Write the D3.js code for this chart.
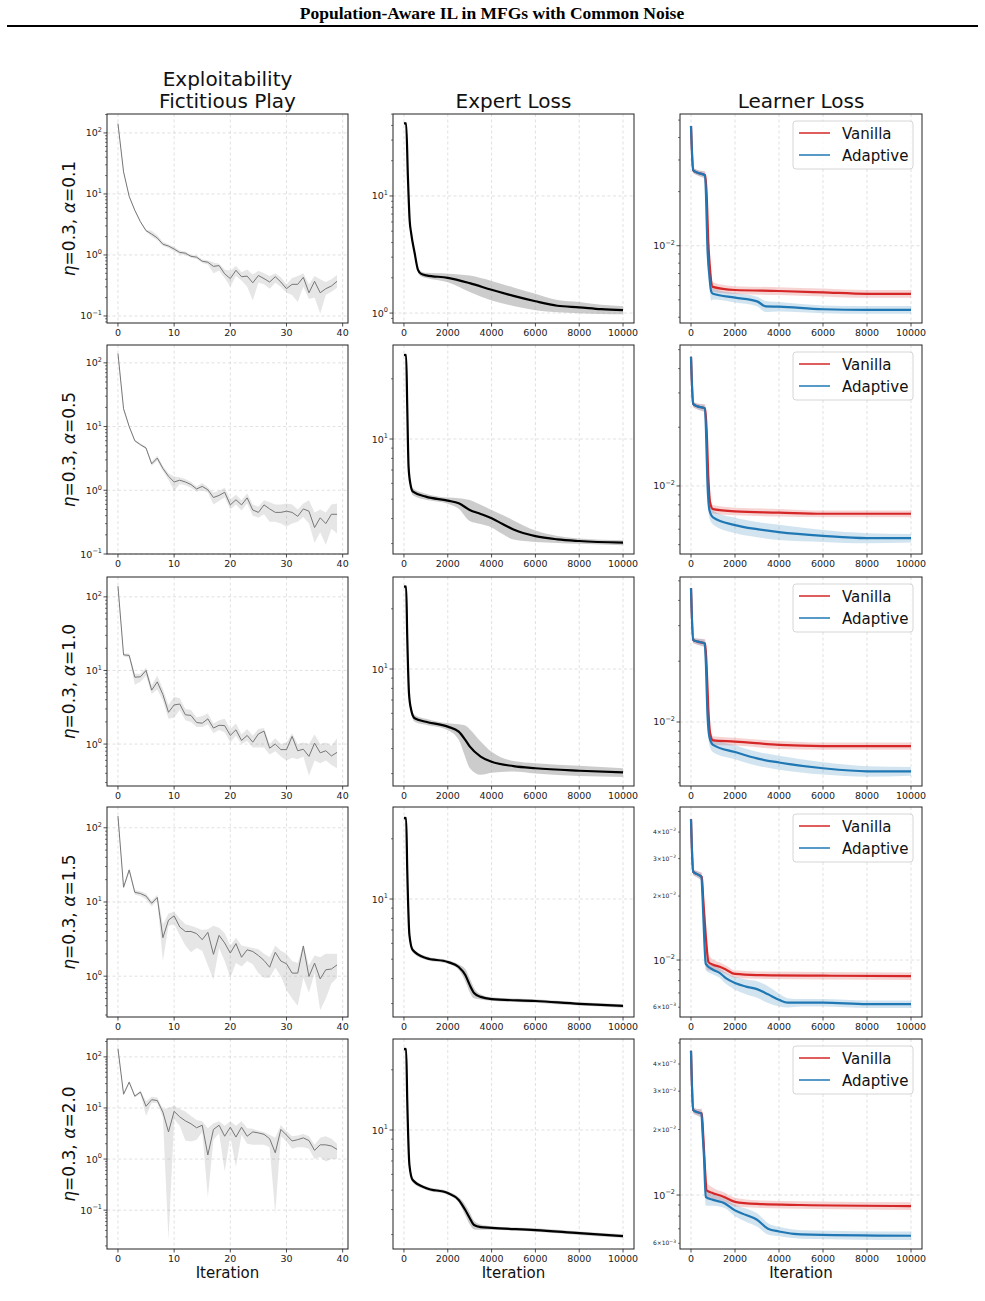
<!DOCTYPE html>
<html>
<head>
<meta charset="utf-8">
<script src="https://cdn.jsdelivr.net/npm/d3@7"></script>
<style>
body { margin: 0; background: #fff; }
text { font-family: "DejaVu Sans", sans-serif; }
</style>
</head>
<body>
<script>
// ---- data ----
const rowLabels = ["0.1", "0.5", "1.0", "1.5", "2.0"];
const colTitles = [["Exploitability", "Fictitious Play"], ["Expert Loss"], ["Learner Loss"]];
const seriesNames = ["Vanilla", "Adaptive"];

// fictitious play exploitability, iterations 0..39
const fpIter = d3.range(40);
const fpMean = [
  [142,23,9.1,5.4,3.5,2.5,2.2,1.9,1.5,1.4,1.25,1.1,1.07,0.95,0.92,0.79,0.76,0.65,0.67,0.49,0.41,0.56,0.44,0.45,0.35,0.46,0.41,0.36,0.44,0.36,0.28,0.33,0.33,0.43,0.24,0.37,0.24,0.28,0.31,0.37],
  [140,19,10,6.0,5.2,4.6,2.6,3.2,2.2,1.66,1.35,1.44,1.35,1.23,1.05,1.15,1.02,0.77,0.83,0.93,0.59,0.71,0.59,0.76,0.49,0.45,0.59,0.51,0.45,0.45,0.47,0.45,0.39,0.51,0.47,0.26,0.37,0.30,0.42,0.42],
  [140,16.3,16,8.1,8.2,10,5.4,7,4.7,2.7,3.4,3.5,2.5,2.45,1.96,1.92,2.2,1.65,1.8,1.78,1.31,1.56,1.12,1.31,1.06,1.37,1.5,0.88,1.0,0.84,0.84,1.27,0.81,0.85,0.68,1.03,0.76,0.81,0.69,0.77],
  [144,15.8,27,13.5,13,12,9.6,11.5,3.3,5.7,6.5,4.6,4.0,4.0,3.75,3.1,3.9,1.97,3.55,2.8,2.05,2.75,1.8,2.27,2.15,1.9,1.63,1.32,2.1,1.6,1.47,1.1,1.1,2.55,0.99,1.5,0.92,1.22,1.25,1.42],
  [145,18.6,32,17,20.5,10.8,14.5,14,8.3,3.4,8.6,6.7,5.6,4.9,4.1,4.6,1.2,3.8,4.6,2.8,4.2,2.7,4.2,2.8,3.4,3.25,3.05,2.5,1.33,3.8,2.95,2.26,2.4,2.6,2.3,1.48,1.9,1.9,1.8,1.55]
];
const fpLo = [
  [138,22,8.8,5.2,3.4,2.4,2.0,1.75,1.4,1.3,1.15,1.03,1.0,0.9,0.86,0.74,0.7,0.5,0.55,0.42,0.3,0.45,0.38,0.3,0.18,0.35,0.33,0.28,0.35,0.3,0.24,0.22,0.17,0.3,0.19,0.2,0.11,0.22,0.25,0.29],
  [137,18,9.6,5.8,5.0,4.4,2.4,2.9,2.0,1.45,0.97,1.25,1.2,1.1,0.95,1.0,0.92,0.6,0.68,0.78,0.5,0.6,0.48,0.62,0.4,0.37,0.42,0.32,0.32,0.3,0.27,0.3,0.32,0.38,0.3,0.15,0.22,0.14,0.25,0.21],
  [137,15.5,15,6.4,7.0,8.5,4.8,5.5,3.9,2.2,2.3,2.9,2.1,2.0,1.7,1.7,1.85,1.4,1.55,1.45,1.05,1.3,1.0,1.1,0.9,0.9,0.9,0.72,0.8,0.68,0.6,0.65,0.62,0.68,0.37,0.6,0.55,0.6,0.52,0.47],
  [140,15,25,12.5,12,10.8,8.7,10.5,1.6,4.8,5.0,3.6,2.6,2.1,2.4,2.2,1.4,0.9,2.4,1.6,0.95,1.5,1.35,1.6,1.45,1.1,0.95,0.95,1.3,1.0,0.65,0.5,0.4,0.95,0.6,1.1,0.35,0.5,0.8,0.95],
  [142,18,30,16,19,7,12.5,12.5,6.5,0.026,6.0,4.5,2.3,2.2,2.4,3.4,0.18,2.4,3.2,0.58,2.8,0.7,3.0,2.0,1.9,1.9,1.9,1.7,0.087,2.8,2.2,1.6,1.7,1.7,1.6,1.0,1.1,0.9,1.0,1.0]
];
const fpHi = [
  [146,24,9.4,5.6,3.6,2.6,2.5,2.1,1.65,1.5,1.35,1.18,1.14,1.0,0.98,0.84,0.82,0.75,0.72,0.58,0.55,0.66,0.52,0.58,0.48,0.55,0.5,0.45,0.5,0.43,0.33,0.42,0.45,0.5,0.33,0.45,0.4,0.36,0.4,0.47],
  [143,20,10.4,6.2,5.4,4.8,2.8,3.5,2.4,1.85,1.65,1.6,1.5,1.35,1.15,1.3,1.12,0.92,0.98,1.1,0.72,0.85,0.7,0.9,0.6,0.55,0.7,0.65,0.6,0.6,0.62,0.6,0.5,0.62,0.7,0.45,0.5,0.45,0.6,0.62],
  [143,17,17,9.0,9.0,11,6.3,8.5,5.6,3.4,4.4,4.2,3.0,2.9,2.3,2.4,2.6,1.9,2.1,2.2,1.6,1.9,1.35,1.6,1.3,1.6,1.65,1.0,1.2,1.0,1.05,1.4,1.0,1.05,1.0,1.35,1.0,1.05,0.95,1.2],
  [148,16.6,29,14.5,14,13,10.5,12.5,5,7.0,7.4,6.0,5.0,4.8,4.5,4.2,4.3,4.8,4.5,3.8,2.6,3.3,2.6,2.5,2.4,2.3,2.0,1.8,2.6,2.2,2.0,1.6,1.5,2.7,1.4,1.9,1.8,2.0,2.0,2.0],
  [148,19.5,34,18,22,13.5,16.5,16,9.5,10,11,9.5,8.5,7.0,5.8,5.5,4.0,5.0,5.5,4.5,5.5,4.5,5.5,4.0,3.9,3.6,3.4,3.0,2.6,4.6,3.5,2.8,2.9,3.1,2.8,1.9,2.6,2.8,2.5,2.0]
];

// expert loss: key iterations, mean, relative band half-width
const expIter = [
  [0,100,180,260,330,490,640,790,1020,2000,3000,4000,5000,6000,7000,8000,9000,10000],
  [0,100,150,210,290,410,1000,2000,2500,3000,3500,4000,4500,5000,6000,7000,8000,10000],
  [0,100,150,230,330,490,1000,2000,2500,2800,3000,3500,4000,5000,6000,8000,10000],
  [0,100,150,250,400,1000,2000,2500,2800,3000,3200,3500,4000,6000,8000,10000],
  [0,100,150,250,400,1000,2000,2500,2800,3000,3200,3500,4000,6000,8000,10000]
];
const expMean = [
  [41.7,41.7,14.6,6.2,4.8,3.24,2.34,2.16,2.1,2.0,1.8,1.58,1.4,1.26,1.155,1.12,1.08,1.06],
  [26.3,26.3,14.5,7.3,6.0,5.45,5.15,4.92,4.77,4.42,4.22,4.01,3.76,3.53,3.27,3.15,3.09,3.03],
  [25.8,25.8,14.5,7.55,6.24,5.67,5.45,5.15,4.86,4.42,4.1,3.65,3.44,3.27,3.19,3.1,3.04],
  [25.4,25.4,14,6.6,5.56,5.07,4.84,4.57,4.17,3.72,3.39,3.24,3.16,3.09,2.99,2.92],
  [25.4,25.4,14.1,6.68,5.62,5.13,4.84,4.47,3.98,3.63,3.35,3.27,3.24,3.16,3.05,2.95]
];
const expSpread = [
  [0.02,0.02,0.03,0.05,0.05,0.05,0.05,0.05,0.05,0.085,0.16,0.19,0.18,0.16,0.12,0.11,0.09,0.08],
  [0.02,0.02,0.03,0.04,0.04,0.04,0.035,0.035,0.06,0.12,0.11,0.10,0.11,0.11,0.065,0.04,0.03,0.03],
  [0.02,0.02,0.03,0.04,0.04,0.04,0.035,0.04,0.09,0.18,0.22,0.19,0.12,0.06,0.06,0.06,0.05],
  [0.02,0.02,0.03,0.03,0.025,0.02,0.02,0.03,0.07,0.08,0.06,0.03,0.02,0.02,0.02,0.02],
  [0.02,0.02,0.03,0.03,0.025,0.02,0.02,0.03,0.06,0.07,0.05,0.03,0.02,0.02,0.02,0.02]
];

// learner loss, vanilla
const vanIter = [
  [0,100,300,640,710,790,870,990,2000,4000,6000,8000,10000],
  [0,100,300,640,710,790,870,1000,2000,4000,6000,8000,10000],
  [0,100,300,640,710,790,870,1000,2000,4000,6000,8000,10000],
  [0,100,300,490,560,640,710,790,1000,1300,1600,2000,3000,6000,10000],
  [0,100,300,490,560,640,710,1000,1500,2000,3000,5000,10000]
];
const vanMean = [
  [0.0464,0.0263,0.0255,0.0247,0.0195,0.0103,0.0073,0.0059,0.00567,0.0056,0.0055,0.0054,0.0054],
  [0.046,0.0263,0.0256,0.025,0.0195,0.011,0.0082,0.0076,0.0074,0.0073,0.0072,0.0072,0.0072],
  [0.046,0.0255,0.025,0.0245,0.019,0.0115,0.0088,0.0081,0.008,0.0077,0.0076,0.0076,0.0076],
  [0.046,0.026,0.0253,0.0246,0.0191,0.0143,0.0116,0.0098,0.0095,0.0093,0.009,0.0086,0.0085,0.00844,0.0084],
  [0.046,0.0246,0.024,0.0237,0.0185,0.013,0.0105,0.0102,0.0098,0.0093,0.0091,0.009,0.0089]
];
const vanSpread = [
  [0.025,0.035,0.035,0.05,0.10,0.14,0.09,0.06,0.05,0.05,0.05,0.05,0.05],
  [0.025,0.035,0.035,0.05,0.10,0.12,0.07,0.05,0.045,0.045,0.04,0.04,0.04],
  [0.025,0.035,0.035,0.05,0.10,0.12,0.07,0.05,0.045,0.045,0.04,0.04,0.04],
  [0.025,0.035,0.035,0.05,0.12,0.17,0.22,0.09,0.06,0.05,0.045,0.04,0.04,0.04,0.04],
  [0.025,0.035,0.035,0.05,0.10,0.12,0.09,0.06,0.05,0.045,0.04,0.04,0.04]
];

// learner loss, adaptive
const adaIter = [
  [0,100,300,620,680,740,840,920,1000,2000,3000,3400,4000,6000,8000,10000],
  [0,100,300,620,680,740,840,1000,2000,3000,4000,6000,8000,10000],
  [0,100,300,620,680,740,840,1000,2000,3000,4000,6000,8000,10000],
  [0,100,300,470,530,610,670,1000,1300,1600,2000,2500,3000,3500,4000,4400,5000,6000,8000,10000],
  [0,100,300,470,530,590,670,1000,1500,2000,2500,3000,3500,4000,5000,10000]
];
const adaMean = [
  [0.0464,0.0263,0.0255,0.0247,0.0195,0.0103,0.0067,0.00555,0.0054,0.00514,0.0049,0.0046,0.00458,0.00443,0.0044,0.0044],
  [0.046,0.0263,0.0256,0.025,0.0195,0.011,0.0075,0.0069,0.0063,0.006,0.0058,0.00555,0.0054,0.0054],
  [0.046,0.0255,0.025,0.0245,0.019,0.0115,0.0084,0.0077,0.0071,0.0066,0.0063,0.0059,0.0057,0.0057],
  [0.046,0.026,0.0253,0.0246,0.0191,0.012,0.0096,0.009,0.0087,0.0082,0.0078,0.0075,0.0073,0.0069,0.0065,0.0063,0.0063,0.0063,0.0062,0.0062],
  [0.046,0.0246,0.024,0.0237,0.0190,0.015,0.0098,0.0095,0.0092,0.0085,0.0081,0.0077,0.0070,0.0068,0.0066,0.0065]
];
const adaSpread = [
  [0.025,0.035,0.035,0.04,0.07,0.12,0.12,0.11,0.07,0.06,0.06,0.07,0.06,0.05,0.05,0.05],
  [0.025,0.035,0.035,0.04,0.07,0.12,0.09,0.08,0.09,0.09,0.09,0.07,0.06,0.05],
  [0.025,0.035,0.035,0.04,0.07,0.12,0.09,0.08,0.08,0.08,0.08,0.07,0.06,0.05],
  [0.025,0.035,0.035,0.04,0.07,0.12,0.07,0.05,0.05,0.06,0.07,0.08,0.09,0.09,0.07,0.05,0.04,0.04,0.04,0.04],
  [0.025,0.035,0.035,0.04,0.07,0.12,0.09,0.06,0.05,0.06,0.07,0.07,0.06,0.05,0.045,0.045]
];

// axis ranges (log10 of y limits) and ticks
const fpYLim = [[-1.115,2.31],[-1.0,2.28],[-0.57,2.27],[-0.55,2.28],[-1.76,2.35]];
const expYLim = [[-0.085,1.70],[0.425,1.47],[0.415,1.46],[0.41,1.46],[0.405,1.455]];
const lrnYLim = [[-2.43,-1.267],[-2.349,-1.277],[-2.317,-1.282],[-2.268,-1.28],[-2.248,-1.283]];
const fpXTicks = [0,10,20,30,40];
const itXTicks = [0,2000,4000,6000,8000,10000];
const lrnMinorLabels = [[],[],[],[0.04,0.03,0.02,0.006],[0.04,0.03,0.02,0.006]];

// ---- layout ----
const colX = [[107,348],[393,634],[680,922]];
const rowY = [[114,323],[345,554],[577,786],[807,1017],[1039,1249]];
const RED = "#d62728", BLUE = "#1f77b4";

const svg = d3.select("body").append("svg")
  .attr("width", 985).attr("height", 1301);

// page heading
svg.append("text").attr("x", 492).attr("y", 19).attr("text-anchor", "middle")
  .style("font-family", "'Liberation Serif', serif").style("font-weight", "bold")
  .style("font-size", "17.5px").text("Population-Aware IL in MFGs with Common Noise");
svg.append("line").attr("x1", 7).attr("x2", 978).attr("y1", 26).attr("y2", 26)
  .attr("stroke", "#000").attr("stroke-width", 2);

function supText(sel, base, exp, size, supSize) {
  sel.style("font-size", size + "px").text(base);
  sel.append("tspan").attr("dy", -size * 0.45).style("font-size", supSize + "px")
    .text(exp < 0 ? "\u2212" + (-exp) : exp);
}

function panel(col, row, xDom, yLim, xTicks, minorLabels) {
  const [x0, x1] = colX[col], [y0, y1] = rowY[row];
  const x = d3.scaleLinear().domain(xDom).range([x0, x1]);
  const y = d3.scaleLog().domain([Math.pow(10, yLim[0]), Math.pow(10, yLim[1])]).range([y1, y0]);
  const id = "clip" + col + "_" + row;
  svg.append("clipPath").attr("id", id).append("rect")
    .attr("x", x0).attr("y", y0).attr("width", x1 - x0).attr("height", y1 - y0);

  const majors = [], minors = [];
  for (let k = Math.floor(yLim[0]); k <= Math.ceil(yLim[1]); k++) {
    if (k >= yLim[0] && k <= yLim[1]) majors.push(k);
    for (let m = 2; m <= 9; m++) {
      const lv = k + Math.log10(m);
      if (lv > yLim[0] && lv < yLim[1]) minors.push(m * Math.pow(10, k));
    }
  }

  const g = svg.append("g");
  // grid
  g.selectAll(".gx").data(xTicks).enter().append("line")
    .attr("x1", d => x(d)).attr("x2", d => x(d)).attr("y1", y0).attr("y2", y1)
    .attr("stroke", "#d4d4d4").attr("stroke-width", 0.7).attr("stroke-dasharray", "3,2.5");
  g.selectAll(".gy").data(majors).enter().append("line")
    .attr("x1", x0).attr("x2", x1).attr("y1", d => y(Math.pow(10, d))).attr("y2", d => y(Math.pow(10, d)))
    .attr("stroke", "#d4d4d4").attr("stroke-width", 0.7).attr("stroke-dasharray", "3,2.5");

  const data = svg.append("g").attr("clip-path", "url(#" + id + ")");

  const ax = svg.append("g").attr("class", "axes");
  ax.append("rect").attr("x", x0).attr("y", y0).attr("width", x1 - x0).attr("height", y1 - y0)
    .attr("fill", "none").attr("stroke", "#222").attr("stroke-width", 1);
  ax.selectAll(".tx").data(xTicks).enter().append("line")
    .attr("x1", d => x(d)).attr("x2", d => x(d)).attr("y1", y1).attr("y2", y1 + 3.5)
    .attr("stroke", "#222").attr("stroke-width", 0.8);
  ax.selectAll(".lx").data(xTicks).enter().append("text")
    .attr("x", d => x(d)).attr("y", y1 + 13).attr("text-anchor", "middle")
    .style("font-size", "9.5px").attr("fill", "#222").text(d => d);
  ax.selectAll(".ty").data(majors).enter().append("line")
    .attr("x1", x0 - 3.5).attr("x2", x0).attr("y1", d => y(Math.pow(10, d))).attr("y2", d => y(Math.pow(10, d)))
    .attr("stroke", "#222").attr("stroke-width", 0.8);
  ax.selectAll(".tm").data(minors).enter().append("line")
    .attr("x1", x0 - 2).attr("x2", x0).attr("y1", d => y(d)).attr("y2", d => y(d))
    .attr("stroke", "#222").attr("stroke-width", 0.6);
  ax.selectAll(".ly").data(majors).enter().append("text")
    .attr("x", x0 - 5).attr("y", d => y(Math.pow(10, d)) + 3.5).attr("text-anchor", "end")
    .attr("fill", "#222")
    .each(function (d) { supText(d3.select(this), "10", d, 9.5, 6.5); });
  ax.selectAll(".lm").data(minorLabels).enter().append("text")
    .attr("x", x0 - 4).attr("y", d => y(d) + 2).attr("text-anchor", "end")
    .attr("fill", "#222")
    .each(function (d) {
      const e = Math.floor(Math.log10(d) + 1e-9);
      const m = Math.round(d / Math.pow(10, e));
      supText(d3.select(this), m + "\u00d710", e, 6, 4.5);
    });

  return { x, y, data, ax, x0, x1, y0, y1 };
}

function keyBand(p, iters, mean, spread, fill, opacity) {
  const pts = iters.map((it, i) => ({ it, m: mean[i], s: spread[i] }));
  p.data.append("path").datum(pts)
    .attr("d", d3.area().curve(d3.curveMonotoneX)
      .x(d => p.x(d.it)).y0(d => p.y(d.m * (1 - d.s))).y1(d => p.y(d.m * (1 + d.s))))
    .attr("fill", fill).attr("fill-opacity", opacity);
}
function keyLine(p, iters, mean, color, width) {
  const pts = iters.map((it, i) => ({ it, m: mean[i] }));
  p.data.append("path").datum(pts)
    .attr("d", d3.line().curve(d3.curveMonotoneX).x(d => p.x(d.it)).y(d => p.y(d.m)))
    .attr("fill", "none").attr("stroke", color).attr("stroke-width", width);
}

for (let r = 0; r < 5; r++) {
  // exploitability
  const p1 = panel(0, r, [-1.95, 40.95], fpYLim[r], fpXTicks, []);
  const fp = fpIter.map(i => ({ i, m: fpMean[r][i], lo: fpLo[r][i], hi: fpHi[r][i] }));
  p1.data.append("path").datum(fp)
    .attr("d", d3.area().x(d => p1.x(d.i)).y0(d => p1.y(d.lo)).y1(d => p1.y(d.hi)))
    .attr("fill", "#808080").attr("fill-opacity", 0.2);
  p1.data.append("path").datum(fp)
    .attr("d", d3.line().x(d => p1.x(d.i)).y(d => p1.y(d.m)))
    .attr("fill", "none").attr("stroke", "#777").attr("stroke-width", 1);

  // expert loss
  const p2 = panel(1, r, [-500, 10500], expYLim[r], itXTicks, []);
  keyBand(p2, expIter[r], expMean[r], expSpread[r], "#aaaaaa", 0.6);
  keyLine(p2, expIter[r], expMean[r], "#000", 2.2);

  // learner loss
  const p3 = panel(2, r, [-500, 10500], lrnYLim[r], itXTicks, lrnMinorLabels[r]);
  keyBand(p3, vanIter[r], vanMean[r], vanSpread[r], RED, 0.2);
  keyBand(p3, adaIter[r], adaMean[r], adaSpread[r], BLUE, 0.2);
  keyLine(p3, vanIter[r], vanMean[r], RED, 2.2);
  keyLine(p3, adaIter[r], adaMean[r], BLUE, 2.2);

  // legend
  const lg = p3.ax.append("g").attr("transform", "translate(" + (p3.x1 - 129) + "," + (p3.y0 + 7) + ")");
  lg.append("rect").attr("width", 120).attr("height", 48).attr("rx", 3)
    .attr("fill", "#fff").attr("fill-opacity", 0.8).attr("stroke", "#cccccc").attr("stroke-width", 0.8);
  [RED, BLUE].forEach((c, i) => {
    lg.append("line").attr("x1", 6).attr("x2", 37).attr("y1", 12 + i * 22).attr("y2", 12 + i * 22)
      .attr("stroke", c).attr("stroke-width", 1.5);
    lg.append("text").attr("x", 49).attr("y", 17.5 + i * 22).style("font-size", "15px")
      .attr("fill", "#111").text(seriesNames[i]);
  });

  // row label
  const cy = (rowY[r][0] + rowY[r][1]) / 2;
  const rl = svg.append("text").attr("transform", "translate(75," + cy + ") rotate(-90)")
    .attr("text-anchor", "middle").style("font-size", "17px").attr("fill", "#111");
  rl.append("tspan").style("font-style", "italic").text("\u03b7");
  rl.append("tspan").text("=0.3, ");
  rl.append("tspan").style("font-style", "italic").text("\u03b1");
  rl.append("tspan").text("=" + rowLabels[r]);
}

// column titles and x labels
colTitles.forEach((lines, c) => {
  const cx = (colX[c][0] + colX[c][1]) / 2;
  lines.forEach((t, i) => {
    svg.append("text").attr("x", cx).attr("y", 108 - (lines.length - 1 - i) * 22)
      .attr("text-anchor", "middle").style("font-size", "20px").attr("fill", "#111").text(t);
  });
  svg.append("text").attr("x", cx).attr("y", 1278).attr("text-anchor", "middle")
    .style("font-size", "15px").attr("fill", "#111").text("Iteration");
});
</script>
</body>
</html>
